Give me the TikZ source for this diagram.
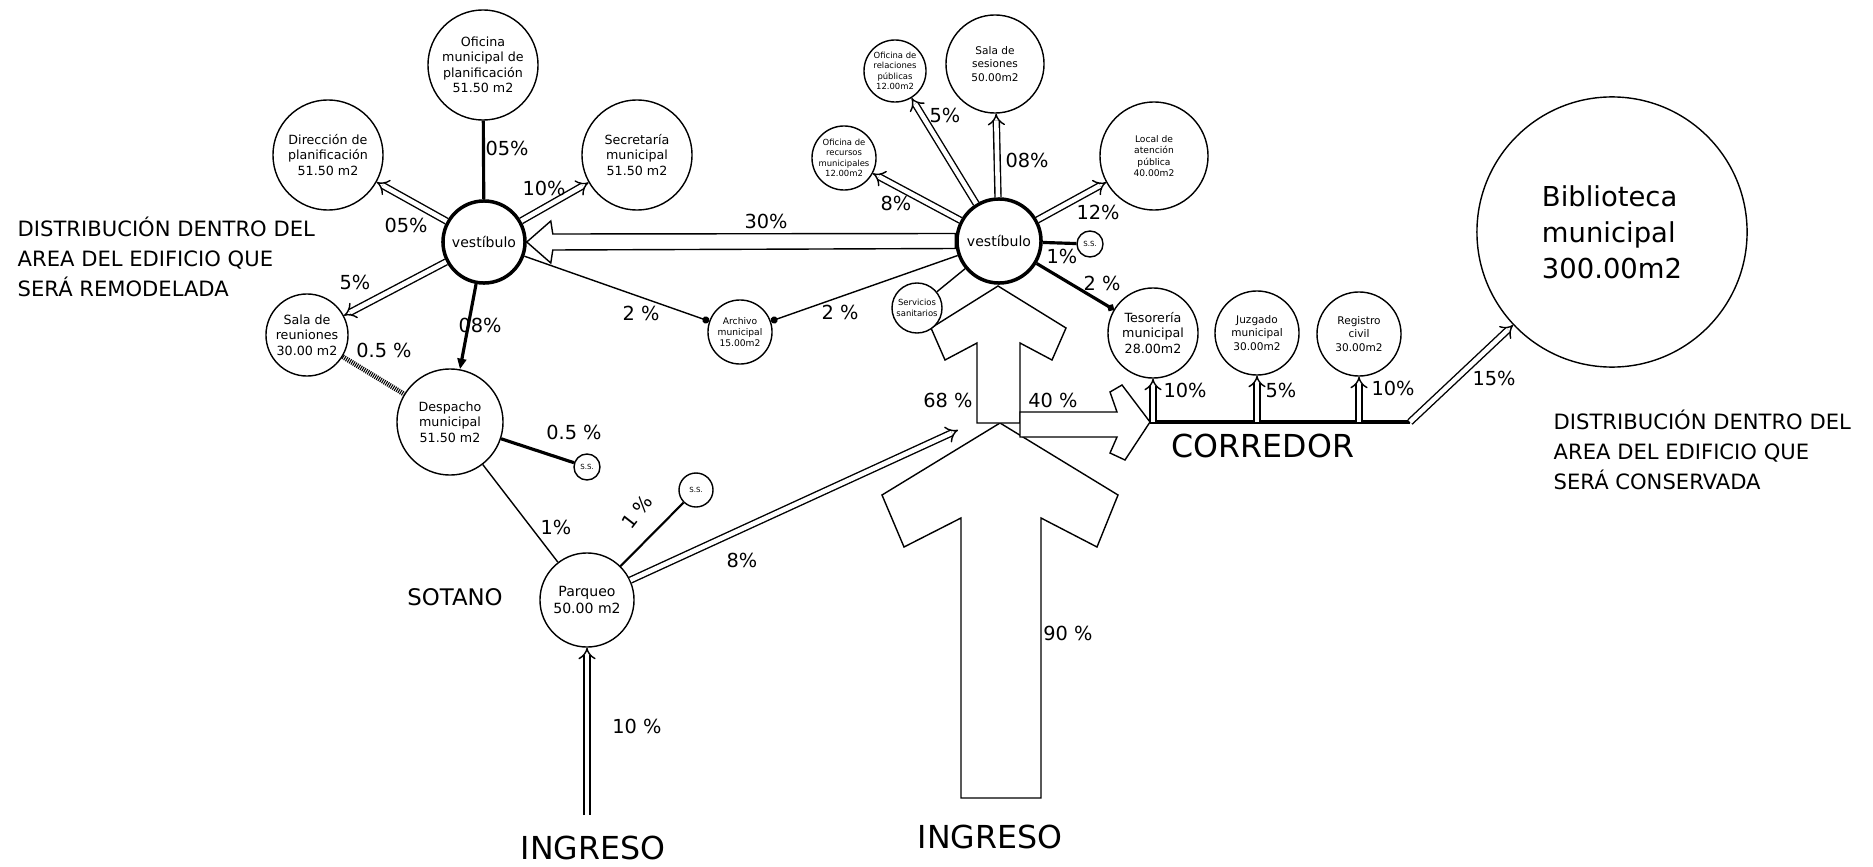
\documentclass[tikz,border=0pt]{standalone}
\usepackage{fontspec}
\setmainfont{DejaVu Sans}
\usepackage{tikz}
\usetikzlibrary{arrows.meta, positioning, calc}

\tikzset{
  room/.style={circle, draw, fill=white, line width=0.4pt, inner sep=0pt,
               align=center, font=\fontsize{3.6}{4.4}\selectfont},
  hall/.style={room, line width=1pt, font=\fontsize{4}{4.8}\selectfont},
  tiny/.style={room, font=\fontsize{2}{2.4}\selectfont},
  flow/.style={double, double distance=1.3pt, line width=0.4pt, -{Implies}},
  link/.style={line width=0.4pt},
  strong/.style={line width=0.9pt},
  hatchline/.style={line width=1.4pt, dash pattern=on 0.3pt off 0.3pt},
  pct/.style={font=\fontsize{5.5}{6}\selectfont, inner sep=0pt},
  block/.style={draw, fill=white, line width=0.4pt, line join=miter},
  zonetitle/.style={font=\fontsize{6}{8.5}\selectfont, align=left, anchor=west, inner sep=0pt},
  bigtext/.style={font=\fontsize{9}{10}\selectfont, inner sep=0pt}
}

\begin{document}
\begin{tikzpicture}[x=0.01cm, y=-0.01cm]
  \useasboundingbox (0,0) rectangle (1873,867);

  % big entrance arrows
  \draw[block] (1000,423) -- (1118,495) -- (1097,547) -- (1041,518) -- (1041,798)
    -- (961,798) -- (961,518) -- (904,547) -- (882,495) -- cycle;
  \draw[block] (998,286) -- (1066,328) -- (1052,360) -- (1020,343) -- (1020,423)
    -- (977,423) -- (977,343) -- (945,360) -- (931,328) -- cycle;
  \draw[block] (1020,412) -- (1117,412) -- (1110,392) -- (1122,385) -- (1150,422)
    -- (1125,460) -- (1110,453) -- (1117,437) -- (1020,437) -- cycle;

  % area to be remodelled
  \node[hall, minimum size=0.82cm] (vest1) at (484,242) {vestíbulo};
  \node[room, minimum size=1.10cm] (ofic) at (483,65) {Oficina\\municipal de\\planificación\\51.50 m2};
  \node[room, minimum size=1.10cm] (dirpl) at (328,155) {Dirección de\\planificación\\51.50 m2};
  \node[room, minimum size=1.10cm] (secr) at (637,155) {Secretaría\\municipal\\51.50 m2};
  \node[room, minimum size=0.82cm] (sala) at (307,335) {Sala de\\reuniones\\30.00 m2};
  \node[room, minimum size=1.06cm] (desp) at (450,422) {Despacho\\municipal\\51.50 m2};
  \node[tiny, minimum size=0.26cm] (ssa) at (587,467) {S.S.};
  \node[room, minimum size=0.94cm, font=\fontsize{4}{4.8}\selectfont] (parq) at (587,600) {Parqueo\\50.00 m2};
  \node[tiny, minimum size=0.34cm] (ssb) at (696,490) {S.S.};
  \node[room, minimum size=0.64cm, font=\fontsize{2.6}{3.2}\selectfont] (arch) at (740,332) {Archivo\\municipal\\15.00m2};

  % area to be kept
  \node[hall, minimum size=0.84cm] (vest2) at (999,241) {vestíbulo};
  \node[room, minimum size=0.62cm, font=\fontsize{2.4}{3}\selectfont] (relp) at (895,71) {Oficina de\\relaciones\\públicas\\12.00m2};
  \node[room, minimum size=0.98cm, font=\fontsize{3}{3.8}\selectfont] (sesi) at (995,64) {Sala de\\sesiones\\50.00m2};
  \node[room, minimum size=0.64cm, font=\fontsize{2.4}{3}\selectfont] (recu) at (844,158) {Oficina de\\recursos\\municipales\\12.00m2};
  \node[room, minimum size=1.08cm, font=\fontsize{2.6}{3.2}\selectfont] (aten) at (1154,156) {Local de\\atención\\pública\\40.00m2};
  \node[tiny, minimum size=0.26cm] (ssc) at (1090,244) {S.S.};
  \node[room, minimum size=0.50cm, font=\fontsize{2.4}{3}\selectfont] (sani) at (917,308) {Servicios\\sanitarios};
  \node[room, minimum size=0.90cm] (teso) at (1153,333) {Tesorería\\municipal\\28.00m2};
  \node[room, minimum size=0.84cm, font=\fontsize{3}{3.8}\selectfont] (juzg) at (1257,333) {Juzgado\\municipal\\30.00m2};
  \node[room, minimum size=0.84cm, font=\fontsize{3}{3.8}\selectfont] (regi) at (1359,334) {Registro\\civil\\30.00m2};
  \node[room, minimum size=2.70cm, align=left, font=\fontsize{7.8}{10.2}\selectfont] (bibl) at (1612,232) {Biblioteca\\municipal\\300.00m2};

  % free ends
  \coordinate (ing1) at (587,815);
  \coordinate (hub) at (958,430);
  \coordinate (cor0) at (1150,422);
  \coordinate (cor1) at (1410,422);

  % connectors, remodelled part
  \draw[strong] (vest1) -- (ofic);
  \draw[flow] (vest1) -- (dirpl);
  \draw[flow] (vest1) -- (secr);
  \draw[flow] (vest1) -- (sala);
  \draw[strong, -{Triangle[length=3pt, width=2.5pt]}] (vest1) -- (desp);
  \draw[hatchline] (sala) -- (desp);
  \draw[strong] (desp) -- (ssa);
  \draw[link] (desp) -- (parq);
  \draw[line width=0.6pt] (parq) -- (ssb);
  \draw[flow] (parq) -- (hub);
  \draw[flow] (ing1) -- (parq);
  \draw[link, -{Circle[length=2pt]}] (vest1) -- (arch);

  % 30 % arrow between both halls
  \draw[block] (vest1.east) -- ++(24,-21) -- ++(2,13) -- ($(vest2.west)+(0,-7.5)$)
    -- ($(vest2.west)+(0,7.5)$) -- ($(vest1.east)+(26,8)$) -- ++(-2,13) -- cycle;

  % connectors, kept part
  \draw[flow] (vest2) -- (relp);
  \draw[flow] (vest2) -- (sesi);
  \draw[flow] (vest2) -- (recu);
  \draw[flow] (vest2) -- (aten);
  \draw[strong] (vest2) -- (ssc);
  \draw[strong, -{Circle[length=2pt]}] (vest2) -- (teso);
  \draw[link] (vest2) -- (sani);
  \draw[link, -{Circle[length=2pt]}] (vest2) -- (arch);

  % corridor
  \draw[line width=1.2pt] (cor0) -- (cor1);
  \draw[flow] (teso |- cor0) -- (teso);
  \draw[flow] (juzg |- cor0) -- (juzg);
  \draw[flow] (regi |- cor0) -- (regi);
  \draw[flow] (cor1) -- (bibl);

  % percentages
  \node[pct] at (507,148) {05\%};
  \node[pct] at (406,225) {05\%};
  \node[pct] at (544,188) {10\%};
  \node[pct] at (355,282) {5\%};
  \node[pct] at (480,325) {08\%};
  \node[pct] at (384,350) {0.5 \%};
  \node[pct] at (574,432) {0.5 \%};
  \node[pct] at (556,527) {1\%};
  \node[pct, rotate=52] at (637,512) {1 \%};
  \node[pct] at (742,560) {8\%};
  \node[pct] at (637,726) {10 \%};
  \node[pct] at (766,221) {30\%};
  \node[pct] at (641,313) {2 \%};
  \node[pct] at (840,312) {2 \%};
  \node[pct] at (945,115) {5\%};
  \node[pct] at (1027,160) {08\%};
  \node[pct] at (896,203) {8\%};
  \node[pct] at (1098,212) {12\%};
  \node[pct] at (1062,256) {1\%};
  \node[pct] at (1102,283) {2 \%};
  \node[pct] at (948,400) {68 \%};
  \node[pct] at (1053,400) {40 \%};
  \node[pct] at (1068,633) {90 \%};
  \node[pct] at (1185,390) {10\%};
  \node[pct] at (1281,390) {5\%};
  \node[pct] at (1393,388) {10\%};
  \node[pct] at (1494,378) {15\%};

  % texts
  \node[bigtext] (corr) at (1263,446) {CORREDOR};
  \node[bigtext] (ingA) at (593,848) {INGRESO};
  \node[bigtext] (ingB) at (990,837) {INGRESO};
  \node[inner sep=0pt, font=\fontsize{6.5}{7}\selectfont] (sot) at (455,597) {SOTANO};
  \node[zonetitle] (remo) at (17,257) {DISTRIBUCIÓN DENTRO DEL\\AREA DEL EDIFICIO QUE\\SERÁ REMODELADA};
  \node[zonetitle] (cons) at (1553,450) {DISTRIBUCIÓN DENTRO DEL\\AREA DEL EDIFICIO QUE\\SERÁ CONSERVADA};
\end{tikzpicture}
\end{document}
